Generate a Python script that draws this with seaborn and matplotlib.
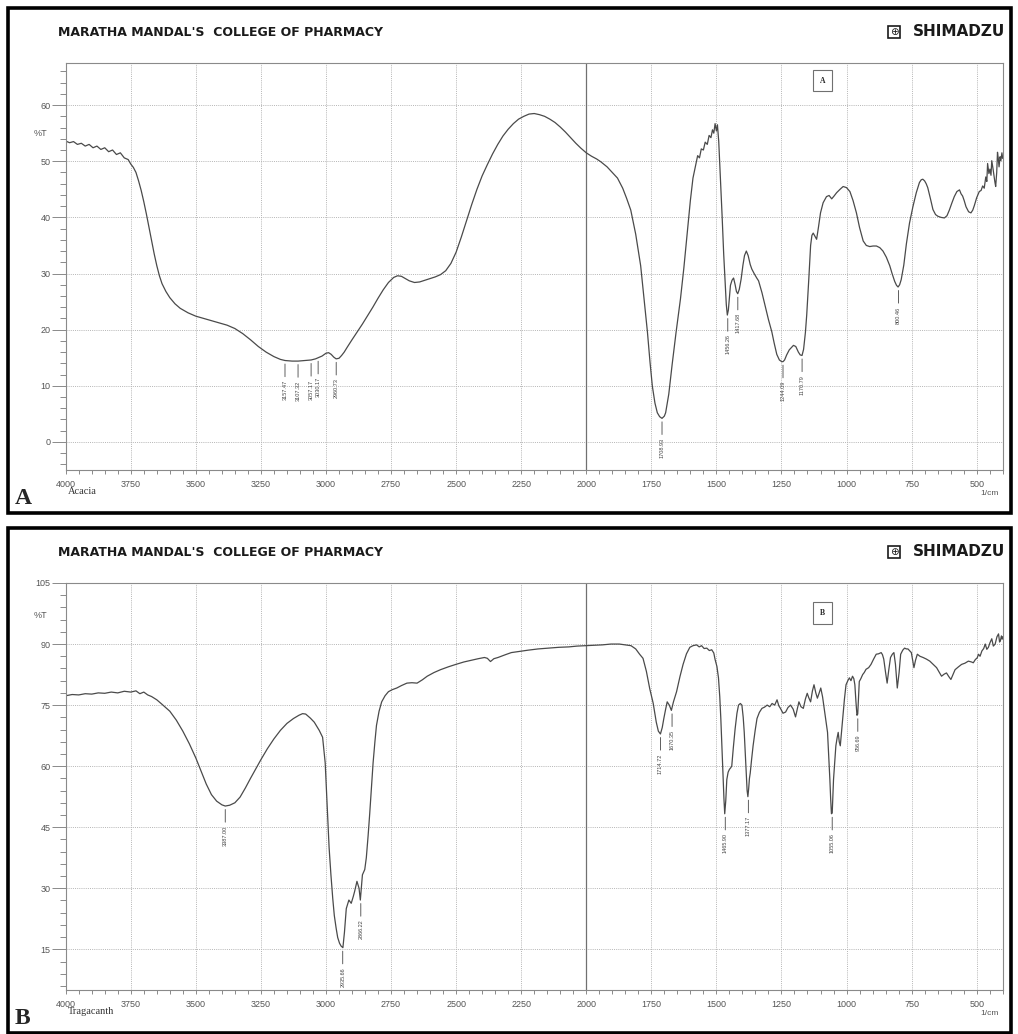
import matplotlib
matplotlib.use("Agg")
import matplotlib.pyplot as plt
import seaborn as sns
from matplotlib.patches import Rectangle
from matplotlib.ticker import MultipleLocator

# --- data (wavenumber in 1/cm, %T) ---
acacia_wn = [
    4000, 3985, 3970, 3955, 3940, 3925, 3910, 3895, 3880, 3865,
    3850, 3835, 3820, 3805, 3790, 3775, 3760, 3750, 3740, 3730,
    3720, 3710, 3700, 3690, 3680, 3670, 3660, 3650, 3640, 3630,
    3615, 3600, 3580, 3560, 3530, 3500, 3470, 3440, 3410, 3380,
    3350, 3320, 3290, 3260, 3230, 3200, 3175, 3157, 3130, 3107,
    3080, 3057, 3040, 3030, 3015, 3000, 2990, 2980, 2970, 2961,
    2950, 2940, 2930, 2918, 2900, 2880, 2860, 2840, 2820, 2800,
    2780, 2760, 2740, 2725, 2710, 2695, 2680, 2660, 2640, 2620,
    2600, 2580, 2560, 2540, 2520, 2500, 2480, 2460, 2440, 2420,
    2400, 2380, 2360, 2340, 2320, 2300, 2280, 2260, 2240, 2220,
    2200, 2180, 2160, 2140, 2120, 2100, 2080, 2060, 2040, 2020,
    2000, 1980, 1960, 1944, 1920, 1900, 1880, 1860, 1845, 1829,
    1810, 1791, 1778, 1765, 1755, 1746, 1736, 1727, 1718, 1709,
    1700, 1695, 1683, 1670, 1655, 1638, 1625, 1612, 1600, 1590,
    1580, 1572, 1565, 1558, 1550, 1543, 1535, 1528, 1521, 1515,
    1510, 1505, 1500, 1496, 1491, 1485, 1478, 1472, 1466, 1462,
    1458, 1454, 1450, 1446, 1440, 1434, 1428, 1423, 1418, 1412,
    1405, 1398, 1392, 1385, 1378, 1370, 1364, 1355, 1345, 1338,
    1325, 1313, 1300, 1287, 1278, 1268, 1258, 1249, 1244, 1238,
    1230, 1220, 1204, 1195, 1185, 1178, 1171, 1165, 1158, 1153,
    1145, 1138, 1133, 1128, 1121, 1115, 1108, 1100, 1090, 1077,
    1067, 1057, 1048, 1038, 1025, 1013, 1000, 987, 975, 962,
    950, 936, 924, 911, 898, 885, 872, 860, 847, 834,
    825, 815, 808, 802, 796, 790, 780, 770, 758, 745,
    732, 720, 713, 707, 700, 694, 688, 678, 668, 658,
    649, 637, 624, 614, 605, 595, 586, 576, 566, 560,
    554, 548, 541, 531, 522, 515, 509, 500, 490, 483,
    477, 471, 465, 461, 458, 453, 449, 445, 442, 437,
    433, 430, 427, 423, 420, 417, 414, 410, 407, 403,
    400,
]
acacia_t = [
    53.6, 53.3, 53.5, 53.0, 53.2, 52.7, 53.0, 52.4, 52.7, 52.1,
    52.4, 51.7, 52.0, 51.2, 51.5, 50.6, 50.3, 49.5, 48.9, 48.0,
    46.5, 44.8, 42.8, 40.6, 38.2, 35.8, 33.5, 31.4, 29.6, 28.2,
    26.8, 25.7, 24.6, 23.8, 23.0, 22.4, 22.0, 21.6, 21.2, 20.8,
    20.2, 19.3, 18.2, 17.0, 16.0, 15.2, 14.7, 14.5, 14.4, 14.4,
    14.5, 14.6, 14.8, 15.0, 15.3, 15.8, 15.9, 15.6, 15.1, 14.8,
    14.9, 15.4, 16.0, 16.9, 18.2, 19.6, 21.0, 22.5, 24.0, 25.6,
    27.1, 28.4, 29.3, 29.6, 29.5, 29.1, 28.7, 28.4, 28.5, 28.8,
    29.1, 29.4, 29.8, 30.5, 31.8, 33.8, 36.5, 39.4, 42.3, 45.0,
    47.4, 49.4, 51.3, 53.0, 54.5, 55.7, 56.7, 57.5, 58.0, 58.4,
    58.5, 58.3, 58.0, 57.5, 56.9, 56.1, 55.2, 54.2, 53.2, 52.3,
    51.5, 50.9, 50.4, 49.9, 49.0, 48.0, 47.0, 45.2, 43.4, 41.3,
    37.0, 31.4, 25.5, 19.6, 14.2, 9.9, 6.9, 5.2, 4.5, 4.2,
    4.6, 5.2, 8.5, 13.8, 19.5, 25.5, 31.0, 37.2, 43.0, 47.0,
    49.2, 51.0, 50.6, 52.2, 52.0, 53.4, 53.0, 54.6, 54.2, 55.6,
    55.0, 56.7, 55.4, 56.5, 53.5, 47.5, 40.2, 33.5, 27.9, 24.5,
    22.6, 23.5, 25.8, 27.9, 28.8, 29.2, 28.0, 26.8, 26.4, 27.2,
    29.0, 31.5, 33.2, 34.0, 33.2, 31.6, 30.8, 30.0, 29.2, 28.7,
    26.6, 24.3, 21.8, 19.6, 17.6, 15.6, 14.6, 14.3, 14.3, 14.6,
    15.5, 16.4, 17.2, 17.0, 16.0, 15.5, 15.4, 16.5, 19.5, 22.6,
    29.0, 35.0, 36.8, 37.2, 36.6, 36.1, 38.2, 40.8, 42.6, 43.7,
    43.9, 43.3, 43.8, 44.4, 45.0, 45.5, 45.3, 44.6, 43.0, 40.8,
    38.2, 35.8, 35.0, 34.8, 34.9, 34.9, 34.6, 34.0, 32.9, 31.4,
    30.0, 28.6, 27.9, 27.6, 28.0, 28.9, 31.5, 35.3, 39.0, 41.9,
    44.4, 46.2, 46.7, 46.8, 46.5, 46.0, 45.3, 43.4, 41.4, 40.5,
    40.2, 40.0, 39.9, 40.3, 41.3, 42.6, 43.7, 44.6, 44.9, 44.2,
    43.8, 43.0, 41.9, 41.0, 40.8, 41.3, 42.1, 43.5, 44.6, 44.8,
    45.6, 45.2, 47.2, 46.4, 49.6, 47.8, 48.6, 47.5, 50.1, 48.6,
    47.2, 46.3, 45.5, 48.0, 51.6, 50.5, 49.0, 50.8, 50.1, 51.5,
    50.5,
]

tragacanth_wn = [
    4000, 3975, 3950, 3925, 3900, 3875, 3850, 3825, 3800, 3775,
    3750, 3730, 3715, 3700, 3685, 3670, 3650, 3630, 3600, 3575,
    3550, 3525, 3500, 3480, 3460, 3440, 3420, 3400, 3387, 3370,
    3350, 3330, 3310, 3290, 3270, 3250, 3225, 3200, 3175, 3150,
    3125, 3104, 3090, 3078, 3060, 3045, 3026, 3013, 3003, 2994,
    2988, 2981, 2974, 2968, 2961, 2955, 2948, 2942, 2935, 2929,
    2922, 2912, 2903, 2895, 2890, 2881, 2873, 2868, 2860, 2851,
    2845, 2838, 2832, 2825, 2819, 2812, 2806, 2796, 2786, 2773,
    2760, 2745, 2728, 2710, 2689, 2670, 2650, 2630, 2611, 2585,
    2560, 2530, 2501, 2470, 2443, 2415, 2391, 2380, 2368, 2355,
    2339, 2310, 2288, 2255, 2223, 2185, 2145, 2105, 2067, 2035,
    2000, 1970, 1938, 1905, 1873, 1850, 1828, 1810, 1795, 1782,
    1769, 1756, 1743, 1731, 1723, 1715, 1708, 1702, 1695, 1689,
    1681, 1673, 1665, 1653, 1640, 1628, 1615, 1602, 1590, 1576,
    1566, 1557, 1547, 1537, 1527, 1518, 1510, 1505, 1498, 1492,
    1487, 1483, 1479, 1475, 1471, 1468, 1464, 1460, 1455, 1450,
    1445, 1441, 1435, 1428, 1421, 1415, 1408, 1402, 1397, 1393,
    1389, 1385, 1382, 1379, 1376, 1373, 1370, 1365, 1359, 1351,
    1344, 1335, 1325, 1315, 1305, 1295, 1286, 1276, 1267, 1260,
    1254, 1244, 1234, 1225, 1215, 1205, 1196, 1190, 1183, 1175,
    1166, 1158, 1151, 1145, 1138, 1131, 1125, 1118, 1112, 1105,
    1099, 1092, 1086, 1080, 1073, 1068, 1064, 1061, 1058, 1055,
    1050, 1045, 1041, 1036, 1032, 1028, 1024, 1019, 1014, 1008,
    1002, 995, 989, 983, 977, 972, 968, 964, 960, 957,
    954, 951, 945, 938, 932, 925, 915, 906, 896, 886,
    877, 867, 862, 857, 850, 844, 838, 831, 824, 818,
    812, 805, 798, 792, 784, 777, 770, 764, 757, 751,
    746, 741, 735, 728, 718, 706, 693, 680, 667, 654,
    645, 635, 625, 616, 607, 599, 591, 583, 570, 558,
    545, 532, 520, 513, 505, 498, 493, 487, 480, 473,
    467, 461, 455, 449, 442, 436, 429, 422, 416, 412,
    409, 405, 402, 400,
]
tragacanth_t = [
    77.3, 77.6, 77.5, 77.8, 77.7, 78.0, 77.9, 78.2, 78.0, 78.4,
    78.2, 78.5, 77.8, 78.2, 77.5, 77.1, 76.3, 75.2, 73.5, 71.3,
    68.6, 65.5, 62.0, 58.8, 55.6, 53.0, 51.4, 50.5, 50.2, 50.4,
    51.0, 52.4, 54.6, 57.0, 59.3, 61.6, 64.3, 66.7, 68.8, 70.5,
    71.7, 72.5, 72.9, 72.8, 71.8, 70.8, 68.8, 67.1, 60.8, 48.3,
    40.0, 33.3, 27.5, 23.3, 20.2, 17.9, 16.5, 15.8, 15.4, 19.2,
    25.0, 27.1, 26.3, 28.0, 29.2, 31.7, 30.0, 27.1, 33.3, 34.6,
    37.5, 43.0, 48.3, 55.0, 60.8, 66.0, 70.0, 73.5, 75.8, 77.3,
    78.3, 78.8, 79.2, 79.8, 80.4, 80.5, 80.4, 81.2, 82.1, 83.0,
    83.7, 84.4, 85.0, 85.6, 86.0, 86.4, 86.7, 86.5, 85.7, 86.4,
    86.7, 87.4, 87.9, 88.2, 88.5, 88.8, 89.0, 89.2, 89.3, 89.5,
    89.6, 89.7, 89.8, 90.0, 90.0, 89.8, 89.6, 88.8, 87.5, 86.5,
    83.3, 79.0, 75.5, 70.8, 68.6, 67.9, 69.5, 71.7, 74.0, 75.8,
    75.0, 73.7, 75.8, 78.3, 82.0, 85.0, 87.6, 89.2, 89.6, 89.8,
    89.3, 89.6, 88.9, 89.0, 88.4, 88.6, 87.8, 86.2, 84.5, 81.7,
    77.0, 71.7, 65.0, 58.3, 52.0, 48.3, 51.5, 56.7, 58.5, 59.2,
    59.6, 60.0, 64.5, 69.2, 73.0, 75.0, 75.4, 75.0, 72.0, 68.3,
    63.0, 57.5, 54.0, 52.5, 54.5, 57.0, 58.3, 61.5, 65.0, 68.8,
    71.7, 73.2, 74.2, 74.5, 75.0, 74.6, 75.4, 75.0, 76.3, 74.8,
    74.2, 73.0, 73.3, 74.4, 75.0, 74.0, 72.1, 73.8, 75.8, 74.6,
    74.2, 76.5, 77.9, 76.8, 75.8, 78.5, 80.0, 78.0, 76.7, 78.0,
    79.2, 77.0, 74.2, 71.5, 68.3, 62.0, 56.7, 52.0, 48.3, 48.5,
    56.7, 61.5, 65.0, 67.0, 68.3, 66.0, 65.0, 68.5, 71.7, 76.5,
    80.0, 81.0, 81.7, 81.0, 82.1, 81.5, 80.0, 76.0, 72.5, 72.8,
    77.0, 80.8, 81.5, 82.5, 83.0, 83.8, 84.2, 85.0, 86.3, 87.5,
    87.6, 87.9, 87.4, 86.3, 83.0, 80.4, 83.5, 86.7, 87.5, 87.9,
    85.0, 79.2, 83.0, 87.5, 88.5, 89.0, 88.8, 88.8, 88.3, 87.9,
    86.0, 84.2, 86.0, 87.5, 87.0, 86.7, 86.3, 85.8, 85.0, 84.2,
    83.2, 82.1, 82.6, 82.9, 82.0, 81.3, 82.5, 83.7, 84.4, 85.0,
    85.3, 85.8, 85.6, 85.4, 86.2, 86.6, 87.5, 87.0, 88.3, 88.9,
    90.0, 88.7, 89.2, 90.3, 91.3, 89.5, 90.0, 91.8, 92.5, 90.5,
    90.8, 92.0, 91.2, 91.8,
]

# labelled peaks
acacia_peak_wn = [3157.47, 3107.32, 3057.17, 3030.17, 2960.73, 1708.93,
                  1456.26, 1417.68, 1244.09, 1170.79, 800.46]
acacia_peak_t = [14.5, 14.4, 14.6, 15.0, 14.8, 4.2, 22.6, 26.4, 14.3, 15.4, 27.6]
trag_peak_wn = [3387.00, 2935.66, 2866.22, 1714.72, 1670.35, 1465.90,
                1377.17, 1055.06, 956.69]
trag_peak_t = [50.2, 15.4, 27.1, 67.9, 73.7, 48.3, 52.5, 48.3, 72.5]

header = "MARATHA MANDAL'S  COLLEGE OF PHARMACY"

# --- style ---
sns.set_style("white")
plt.rcParams["font.family"] = ["Liberation Sans", "DejaVu Sans"]

W, H = 1018, 1034
fig = plt.figure(figsize=(W / 100, H / 100), dpi=100)


def fx(px):
    return px / W


def fy(py):
    return 1 - py / H


def draw_panel(top, wn, t, ylim, major, minor, pk_wn, pk_t, sample, tag, tag_y, pct_y, big):
    # panel frame, header and logo
    fig.add_artist(Rectangle((fx(8), fy(top + 505)), fx(1003), 505 / H,
                             transform=fig.transFigure, fill=False, ec="black", lw=2.6))
    fig.text(fx(58), fy(top + 24), header, ha="left", va="center", fontsize=9.0,
             fontweight="bold", family="DejaVu Sans", color="#1a1a1a")
    fig.text(fx(1005), fy(top + 24), "SHIMADZU", ha="right", va="center", fontsize=11,
             fontweight="bold", family="DejaVu Sans", color="#1a1a1a")
    fig.text(fx(894), fy(top + 24), "\u2295", ha="center", va="center", fontsize=7.5,
             family="DejaVu Sans", color="#1a1a1a",
             bbox=dict(boxstyle="square,pad=0.12", fc="white", ec="#1a1a1a", lw=1.2))
    fig.text(fx(15), fy(top + 490), big, ha="left", va="center", fontsize=17,
             fontweight="bold", family=["Liberation Serif", "DejaVu Serif"])

    ax = fig.add_axes([fx(65.7), fy(top + 462), fx(937), 407 / H])
    sns.lineplot(x=wn, y=t, ax=ax, color="#4a4a4a", linewidth=0.9,
                 sort=False, estimator=None)
    ax.set_xlim(4000, 400)
    ax.set_ylim(*ylim)
    ax.set_xlabel("")
    ax.set_ylabel("")
    ax.xaxis.set_major_locator(MultipleLocator(250))
    ax.xaxis.set_minor_locator(MultipleLocator(50))
    ax.yaxis.set_major_locator(MultipleLocator(major))
    ax.yaxis.set_minor_locator(MultipleLocator(minor))
    ax.grid(which="major", linestyle=(0, (1, 1.2)), color="#b5b5b5", linewidth=0.7)
    ax.axvline(2000, color="#707070", lw=0.9, zorder=1)
    for s in ax.spines.values():
        s.set_color("#8a8a8a")
        s.set_linewidth(0.8)
    ax.tick_params(axis="y", which="major", direction="out", length=10, width=0.7,
                   color="#8a8a8a", labelsize=6.5, labelcolor="#555555", pad=1, left=True)
    ax.tick_params(axis="y", which="minor", direction="out", length=4.5, width=0.7,
                   color="#8a8a8a", left=True)
    ax.tick_params(axis="x", which="both", direction="out", length=3, width=0.7,
                   color="#8a8a8a", labelsize=6.5, labelcolor="#555555", pad=4, bottom=True)

    ax.text(-0.027, pct_y, "%T", transform=ax.get_yaxis_transform(), ha="center",
            va="center", fontsize=6.5, color="#555555")
    ax.text(0.002, -0.052, sample, transform=ax.transAxes, ha="left", va="center",
            fontsize=7.5, family=["Liberation Serif", "DejaVu Serif"], color="#333333")
    ax.text(0.986, -0.058, "1/cm", transform=ax.transAxes, ha="center", va="center",
            fontsize=6, color="#555555")
    ax.text(0.808, tag_y, tag, transform=ax.transAxes, ha="center", va="center",
            fontsize=5.5, fontweight="bold", family=["Liberation Serif", "DejaVu Serif"],
            bbox=dict(boxstyle="square,pad=0.9", fc="white", ec="#707070", lw=0.8))

    for w, v in zip(pk_wn, pk_t):
        ax.annotate(f"{w:.2f}", xy=(w, v), xytext=(0, -14), textcoords="offset points",
                    rotation=90, ha="center", va="top", fontsize=4, color="#444444",
                    arrowprops=dict(arrowstyle="-", color="#444444", lw=0.6,
                                    shrinkA=0, shrinkB=2.5))
    return ax


draw_panel(8, acacia_wn, acacia_t, (-5, 67.5), 10, 2, acacia_peak_wn, acacia_peak_t,
           "Acacia", "A", 0.957, 55, "A")
draw_panel(528, tragacanth_wn, tragacanth_t, (5, 105), 15, 3, trag_peak_wn, trag_peak_t,
           "Tragacanth", "B", 0.926, 97, "B")

plt.savefig("out.png", dpi=100)
